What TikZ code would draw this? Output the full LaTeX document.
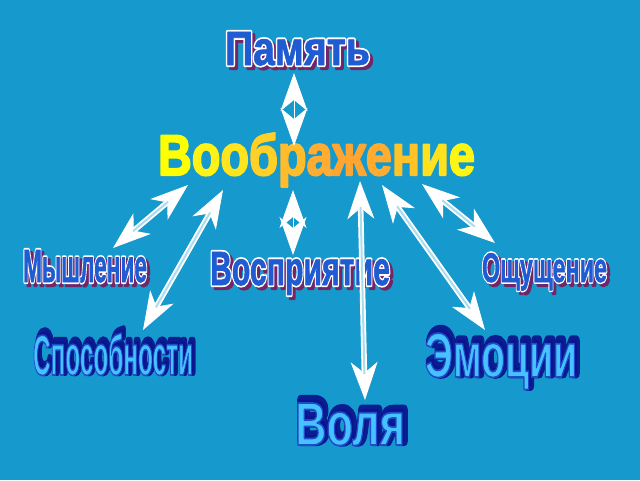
\documentclass[tikz,border=0pt]{standalone}
\usepackage{fontspec}
\setmainfont{Liberation Sans}
\usepackage{graphicx}
\usetikzlibrary{arrows.meta}

\definecolor{bg}{RGB}{22,153,204}
\definecolor{shaftin}{RGB}{170,220,240}

\tikzset{
  wtxt/.style={inner sep=0pt, anchor=base, font=\bfseries\fontsize{40}{44}\selectfont},
  headline/.style={draw=white, fill=white, line width=1pt,
    {Stealth[length=38pt,width=27pt,inset=11pt]}-{Stealth[length=38pt,width=27pt,inset=11pt]}},
  shaft/.style={draw=white, line width=1.8pt, double=shaftin, double distance=2pt,
    shorten <=26pt, shorten >=26pt}
}

% text in render mode #1 with fill colour #2, stroke colour #3 (pdf rgb arrays), stroke width #4
\newcommand\strk[5]{\special{pdf:bcolor [#2] [#3]}\special{pdf:literal direct #1 Tr #4 w 1 j}#5\special{pdf:literal direct 0 Tr}\special{pdf:ecolor}}

% dark blue word with white outline and reddish shadow
\newcommand\wordA[6]{%
  \node[wtxt] at (#2+3,#3+3) {\resizebox{#4pt}{#5pt}{\strk{2}{0.45 0.15 0.40}{0.45 0.15 0.40}{3.6}{#6}}};
  \node[wtxt] at (#2,#3) {\resizebox{#4pt}{#5pt}{\strk{2}{1 1 1}{1 1 1}{3.6}{#6}}};
  \node[wtxt] (#1) at (#2,#3) {\resizebox{#4pt}{#5pt}{\strk{2}{0.12 0.36 0.82}{0.12 0.36 0.82}{0.6}{#6}}};
}
% light blue word with navy glow
\newcommand\wordB[6]{%
  \node[wtxt,opacity=0.92] at (#2+2.5,#3-3.5) {\resizebox{#4pt}{#5pt}{\strk{2}{0.04 0.08 0.55}{0.04 0.08 0.55}{6}{#6}}};
  \node[wtxt] (#1) at (#2,#3) {\resizebox{#4pt}{#5pt}{\strk{2}{0.27 0.76 1}{0.12 0.30 0.80}{1.1}{#6}}};
}

\newcommand\vobr{%
\textcolor[RGB]{255,255,0}{В}\textcolor[RGB]{255,242,20}{о}\textcolor[RGB]{255,228,30}{о}%
\textcolor[RGB]{255,208,40}{б}\textcolor[RGB]{255,188,45}{р}\textcolor[RGB]{255,172,50}{а}%
\textcolor[RGB]{255,165,50}{ж}\textcolor[RGB]{255,172,48}{е}\textcolor[RGB]{255,195,40}{н}%
\textcolor[RGB]{255,225,30}{и}\textcolor[RGB]{255,245,20}{е}}

\begin{document}
\begin{tikzpicture}[x=1pt,y=-1pt]
\fill[bg] (0,0) rectangle (640,480);
\useasboundingbox (0,0) rectangle (640,480);

% arrow tips
\coordinate (pA) at (294,73);   \coordinate (vA) at (294,146);
\coordinate (vB) at (293,190);  \coordinate (wB) at (293,255);
\coordinate (vC) at (188,185);  \coordinate (mC) at (113,248);
\coordinate (vD) at (223,190);  \coordinate (sD) at (143,330);
\coordinate (vE) at (360,181);  \coordinate (wE) at (365,400);
\coordinate (vF) at (382,185);  \coordinate (eF) at (485,330);
\coordinate (vG) at (422,184);  \coordinate (oG) at (495,243);

% words
\wordA{pam}{297.5}{65}{145}{33}{Память}
\wordA{mysh}{85}{282}{124}{32}{Мышление}
\wordA{vosp}{300}{285}{180}{33}{Восприятие}
\wordA{oshch}{544.5}{282}{125}{29}{Ощущение}
\wordB{spos}{113}{375}{160}{42}{Способности}
\wordB{emoc}{501}{377}{152}{44}{Эмоции}
\wordB{vol}{350}{445}{110}{42}{Воля}

% central word
\node[wtxt] (vobr) at (316.5,175) {\resizebox{317pt}{42pt}{\special{pdf:literal direct 2 Tr 1.4 w 1 j}\vobr\special{pdf:literal direct 0 Tr}}};

% arrows
\draw[headline] (pA) -- (vA);
\draw[headline] (vB) -- (wB);
\foreach \a/\b in {vC/mC, vD/sD, vE/wE, vF/eF, vG/oG}{
  \draw[headline] (\a) -- (\b);
  \draw[shaft] (\a) -- (\b);
}
\end{tikzpicture}
\end{document}
